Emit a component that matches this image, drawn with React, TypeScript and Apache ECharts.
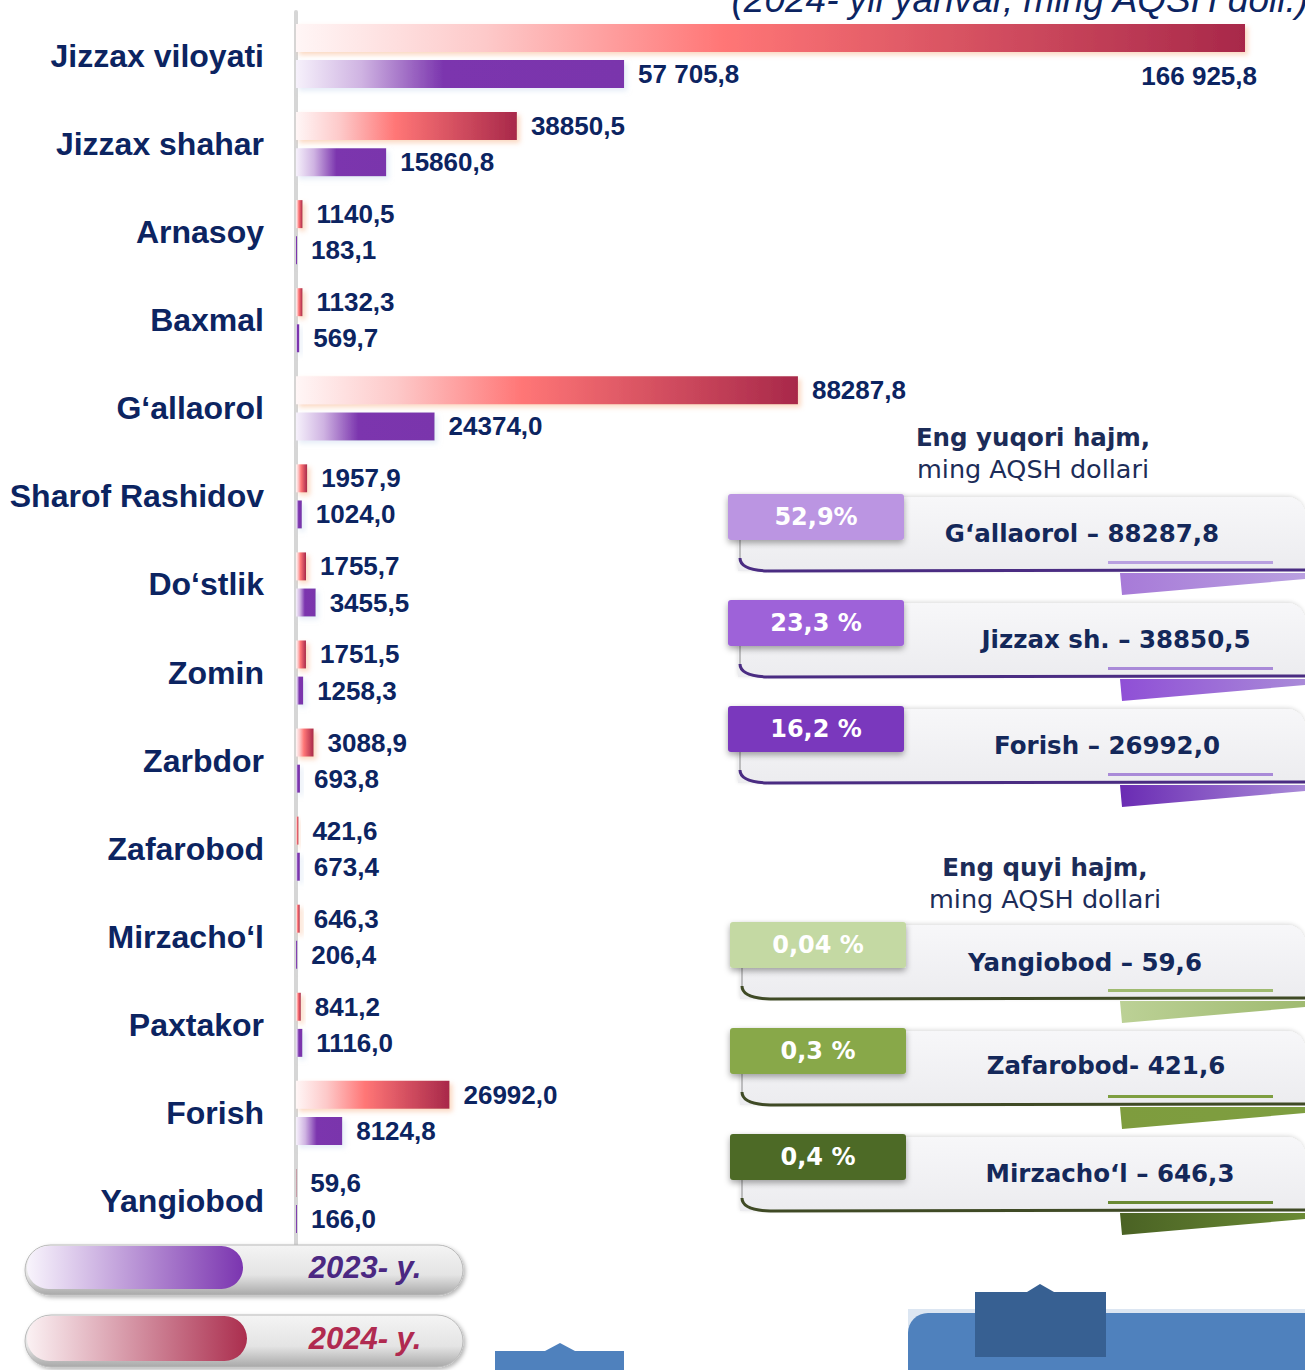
import React, { useEffect, useRef } from "react";
import * as echarts from "echarts";

const categories = [
  "Jizzax viloyati", "Jizzax shahar", "Arnasoy", "Baxmal", "G‘allaorol", "Sharof Rashidov",
  "Do‘stlik", "Zomin", "Zarbdor", "Zafarobod", "Mirzacho‘l", "Paxtakor", "Forish", "Yangiobod",
];
const values2024 = [166925.8, 38850.5, 1140.5, 1132.3, 88287.8, 1957.9, 1755.7, 1751.5, 3088.9, 421.6, 646.3, 841.2, 26992.0, 59.6];
const values2023 = [57705.8, 15860.8, 183.1, 569.7, 24374.0, 1024.0, 3455.5, 1258.3, 693.8, 673.4, 206.4, 1116.0, 8124.8, 166.0];
const labels2024 = ["166 925,8", "38850,5", "1140,5", "1132,3", "88287,8", "1957,9", "1755,7", "1751,5", "3088,9", "421,6", "646,3", "841,2", "26992,0", "59,6"];
const labels2023 = ["57 705,8", "15860,8", "183,1", "569,7", "24374,0", "1024,0", "3455,5", "1258,3", "693,8", "673,4", "206,4", "1116,0", "8124,8", "166,0"];
const legendNames = ["2023- y.", "2024- y."];
const titleText = "(2024- yil yanvar, ming AQSH doll.)";
const topTitle = ["Eng yuqori hajm,", "ming AQSH dollari"];
const bottomTitle = ["Eng quyi hajm,", "ming AQSH dollari"];
const topShares = ["52,9%", "23,3 %", "16,2 %"];
const topNames = ["G‘allaorol – 88287,8", "Jizzax sh. – 38850,5", "Forish – 26992,0"];
const bottomShares = ["0,04 %", "0,3 %", "0,4 %"];
const bottomNames = ["Yangiobod – 59,6", "Zafarobod- 421,6", "Mirzacho‘l – 646,3"];

const NAVY = "#0c2461";
const SANS = "'Liberation Sans', Arial, sans-serif";
const WIDE = "'DejaVu Sans', Verdana, sans-serif";

const redGrad = () =>
  new echarts.graphic.LinearGradient(0, 0, 1, 0, [
    { offset: 0, color: "#fff6f6" },
    { offset: 0.2, color: "#fdc9c9" },
    { offset: 0.45, color: "#ff7676" },
    { offset: 1, color: "#a8284a" },
  ]);
const purpleGrad = () =>
  new echarts.graphic.LinearGradient(0, 0, 1, 0, [
    { offset: 0, color: "#f6f1fb" },
    { offset: 0.2, color: "#cfb3e2" },
    { offset: 0.45, color: "#7b35ae" },
    { offset: 1, color: "#7a34ac" },
  ]);

function infoBox(
  T: number, tabX: number, share: string, name: string, nameX: number, nameY: number,
  tabColor: string, accent: string, lineColor: string, wedge: string
): any[] {
  const px = tabX + 10;
  return [
    {
      type: "rect", z: 10,
      shape: { x: px, y: T + 3, width: 1305 - px, height: 74, r: [0, 18, 0, 0] },
      style: {
        fill: new echarts.graphic.LinearGradient(0, 0, 0, 1, [
          { offset: 0, color: "#f7f7f9" },
          { offset: 1, color: "#ececef" },
        ]),
        shadowBlur: 4, shadowColor: "rgba(0,0,0,0.15)", shadowOffsetY: -1,
      },
    },
    {
      type: "line", z: 11,
      shape: { x1: tabX + 12, y1: T + 44, x2: tabX + 12, y2: T + 64 },
      style: { stroke: "#8a8a8a", lineWidth: 1 },
    },
    {
      type: "bezierCurve", z: 11,
      shape: { x1: tabX + 12, y1: T + 64, cpx1: tabX + 12, cpy1: T + 76, x2: tabX + 40, y2: T + 77 },
      style: { stroke: lineColor, lineWidth: 3, fill: "none" },
    },
    {
      type: "line", z: 11,
      shape: { x1: tabX + 40, y1: T + 77, x2: 1305, y2: T + 76 },
      style: { stroke: lineColor, lineWidth: 3 },
    },
    {
      type: "rect", z: 11,
      shape: { x: 1108, y: T + 67, width: 165, height: 3 },
      style: { fill: accent },
    },
    {
      type: "polygon", z: 11,
      shape: { points: [[1120, T + 79], [1305, T + 79], [1305, T + 85], [1122, T + 101]] },
      style: {
        fill: new echarts.graphic.LinearGradient(0, 0, 1, 0, [
          { offset: 0, color: wedge },
          { offset: 1, color: accent },
        ]),
      },
    },
    {
      type: "rect", z: 12,
      shape: { x: tabX, y: T, width: 176, height: 46, r: 3 },
      style: { fill: tabColor, shadowBlur: 6, shadowColor: "rgba(0,0,0,0.35)", shadowOffsetY: 3 },
    },
    {
      type: "text", z: 13, x: tabX + 88, y: T + 23,
      style: { text: share, fill: "#ffffff", fontSize: 24, fontWeight: "bold", fontFamily: WIDE, align: "center", verticalAlign: "middle" },
    },
    {
      type: "text", z: 13, x: nameX, y: nameY,
      style: { text: name, fill: "#14285a", fontSize: 24.5, fontWeight: "bold", fontFamily: WIDE, align: "center", verticalAlign: "middle" },
    },
  ];
}

function legendPill(y: number, h: number, innerW: number, label: string, c0: string, c1: string, textColor: string): any[] {
  return [
    {
      type: "rect", z: 10,
      shape: { x: 25, y, width: 438, height: h, r: h / 2 },
      style: {
        fill: new echarts.graphic.LinearGradient(0, 0, 0, 1, [
          { offset: 0, color: "#f4f4f4" },
          { offset: 0.6, color: "#e4e4e4" },
          { offset: 1, color: "#a9a9a9" },
        ]),
        stroke: "#b9b9b9", lineWidth: 1,
        shadowBlur: 4, shadowColor: "rgba(0,0,0,0.3)", shadowOffsetY: 2, shadowOffsetX: 2,
      },
    },
    {
      type: "rect", z: 11,
      shape: { x: 27, y: y + 1, width: innerW, height: h - 7, r: (h - 7) / 2 },
      style: {
        fill: new echarts.graphic.LinearGradient(0, 0, 1, 0, [
          { offset: 0, color: c0 },
          { offset: 1, color: c1 },
        ]),
      },
    },
    {
      type: "text", z: 12, x: 365, y: y + h / 2 - 3,
      style: { text: label, fill: textColor, fontSize: 31, fontWeight: "bold", fontStyle: "italic", fontFamily: SANS, align: "center", verticalAlign: "middle" },
    },
  ];
}

export default function App() {
  const ref = useRef<HTMLDivElement>(null);
  useEffect(() => {
    if (!ref.current) return;
    const chart = echarts.init(ref.current, undefined, { renderer: "svg" });

    const graphics: any[] = [
      {
        type: "text", z: 5, x: 1308, y: 18,
        style: { text: titleText, fill: NAVY, fontSize: 37, fontStyle: "italic", fontFamily: SANS, align: "right", verticalAlign: "bottom" },
      },
      {
        type: "text", z: 5, x: 1033, y: 437,
        style: { text: topTitle[0], fill: "#1c2c58", fontSize: 24.5, fontWeight: "bold", fontFamily: WIDE, align: "center", verticalAlign: "middle" },
      },
      {
        type: "text", z: 5, x: 1033, y: 469,
        style: { text: topTitle[1], fill: "#1c2c58", fontSize: 25.5, fontFamily: WIDE, align: "center", verticalAlign: "middle" },
      },
      {
        type: "text", z: 5, x: 1045, y: 867,
        style: { text: bottomTitle[0], fill: "#1c2c58", fontSize: 24.5, fontWeight: "bold", fontFamily: WIDE, align: "center", verticalAlign: "middle" },
      },
      {
        type: "text", z: 5, x: 1045, y: 899,
        style: { text: bottomTitle[1], fill: "#1c2c58", fontSize: 25.5, fontFamily: WIDE, align: "center", verticalAlign: "middle" },
      },
      ...infoBox(494, 728, topShares[0], topNames[0], 1082, 533, "#bb95e2", "#b9a0e0", "#4a2c82", "#a77ad8"),
      ...infoBox(600, 728, topShares[1], topNames[1], 1116, 639, "#9e62d9", "#a98ad8", "#4a2c82", "#8f4fd6"),
      ...infoBox(706, 728, topShares[2], topNames[2], 1107, 745, "#7a37bd", "#a98ad8", "#4a2c82", "#6a2bb3"),
      ...infoBox(922, 730, bottomShares[0], bottomNames[0], 1085, 962, "#c4d9a3", "#9fba70", "#3f4a25", "#bcd196"),
      ...infoBox(1028, 730, bottomShares[1], bottomNames[1], 1106, 1065, "#88a84a", "#7e9e40", "#3f4a25", "#7e9c3e"),
      ...infoBox(1134, 730, bottomShares[2], bottomNames[2], 1110, 1173, "#4e6a28", "#6a8a34", "#3f4a25", "#4a6224"),
      ...legendPill(1245, 50, 216, legendNames[0], "#f8f4fc", "#7b35b0", "#4b2882"),
      ...legendPill(1315, 52, 220, legendNames[1], "#fbf1f3", "#ab2e4e", "#b02a50"),
      // decorative slide shapes at the bottom
      {
        type: "polygon", z: 5,
        shape: { points: [[495, 1351], [545, 1351], [560, 1343], [575, 1351], [624, 1351], [624, 1370], [495, 1370]] },
        style: { fill: "#4f81bd" },
      },
      { type: "rect", z: 5, shape: { x: 908, y: 1309, width: 397, height: 61 }, style: { fill: "#dce6f2" } },
      { type: "rect", z: 6, shape: { x: 908, y: 1313, width: 420, height: 80, r: [20, 0, 0, 0] }, style: { fill: "#4f81bd" } },
      {
        type: "polygon", z: 7,
        shape: { points: [[975, 1292], [1027, 1292], [1040, 1284], [1054, 1292], [1106, 1292], [1106, 1357], [975, 1357]] },
        style: { fill: "#376092" },
      },
    ];

    const data2024 = values2024.map((v, i) =>
      i === 0
        ? { value: v, label: { position: "insideRight", offset: [26, 38] } }
        : { value: v }
    );

    chart.setOption({
      animation: false,
      backgroundColor: "#ffffff",
      grid: { left: 296, top: 12, width: 966.5, height: 1233, containLabel: false },
      xAxis: { type: "value", min: 0, max: 170000, show: false },
      yAxis: {
        type: "category",
        inverse: true,
        data: categories,
        offset: 4,
        axisLine: { show: true, lineStyle: { color: "#d6d6d6", width: 4 } },
        axisTick: { show: false },
        axisLabel: { margin: 28, fontSize: 32, fontWeight: "bold", color: NAVY, fontFamily: SANS },
        splitLine: { show: false },
      },
      series: [
        {
          name: "2024",
          type: "bar",
          data: data2024,
          barWidth: 28,
          barGap: "29%",
          itemStyle: {
            color: redGrad(),
            shadowColor: "rgba(246,170,120,0.45)", shadowBlur: 5, shadowOffsetY: 3, shadowOffsetX: 3,
          },
          label: {
            show: true, position: "right", distance: 14,
            formatter: (p: any) => labels2024[p.dataIndex],
            fontSize: 26, fontWeight: "bold", color: NAVY, fontFamily: SANS,
          },
        },
        {
          name: "2023",
          type: "bar",
          data: values2023,
          barWidth: 28,
          barGap: "29%",
          itemStyle: {
            color: purpleGrad(),
            shadowColor: "rgba(205,220,240,0.5)", shadowBlur: 5, shadowOffsetY: 3, shadowOffsetX: 3,
          },
          label: {
            show: true, position: "right", distance: 14,
            formatter: (p: any) => labels2023[p.dataIndex],
            fontSize: 26, fontWeight: "bold", color: NAVY, fontFamily: SANS,
          },
        },
      ],
      graphic: graphics,
    });
    return () => chart.dispose();
  }, []);
  return <div ref={ref} style={{ position: "fixed", left: 0, top: 0, width: 1305, height: 1370 }} />;
}
